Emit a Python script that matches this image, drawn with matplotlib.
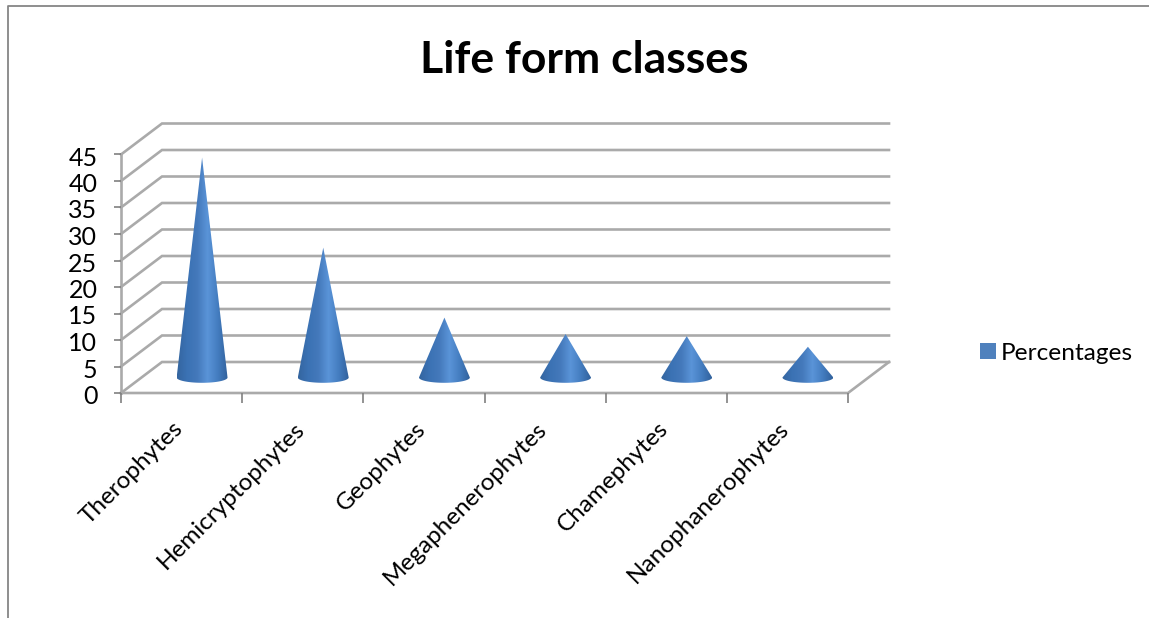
import numpy as np
import matplotlib
matplotlib.use("Agg")
import matplotlib.pyplot as plt
from matplotlib.lines import Line2D
from matplotlib.patches import Patch, Polygon
from matplotlib.colors import LinearSegmentedColormap
from matplotlib.transforms import ScaledTranslation

categories = ["Therophytes", "Hemicryptophytes", "Geophytes",
              "Megaphenerophytes", "Chamephytes", "Nanophanerophytes"]
percentages = [41.5, 24.5, 11.3, 8.2, 7.8, 5.8]
series_name = "Percentages"
title = "Life form classes"
y_ticks = list(range(0, 50, 5))

W, H = 1149, 618
FONT = ["Lato", "DejaVu Sans"]
plt.rcParams["font.family"] = FONT
GRID = "#aaaaaa"
TICK = "#808080"

fig = plt.figure(figsize=(W / 100, H / 100), dpi=100, facecolor="white")
ax = fig.add_axes([121 / W, 1 - 393 / H, 727 / W, 238.5 / H])
ax.set_xlim(0, 6)
ax.set_ylim(0, 45)
ax.patch.set_alpha(0)
for s in ax.spines.values():
    s.set_visible(False)

DX = 41 / (727 / 6)          # depth of the 3-D box, in category units
DY = 31 / (238.5 / 45)       # depth of the 3-D box, in value units
LW = 1.9

for v in y_ticks:
    ax.plot([0, DX, 6 + DX], [v, v + DY, v + DY], color=GRID, lw=LW,
            clip_on=False, zorder=1, solid_joinstyle="miter")
ax.plot([0, 6, 6 + DX], [0, 0, DY], color=GRID, lw=LW, clip_on=False, zorder=1)
ax.plot([0, 0], [0, 45], color=GRID, lw=LW, clip_on=False, zorder=1)

cmap = LinearSegmentedColormap.from_list(
    "cone", ["#34659f", "#3b72b4", "#4479bb", "#5a94d8", "#447dc0", "#31619c"])
grad = np.linspace(0, 1, 256)[None, :]
half_w = 0.21
e_h = 1.0
base_y = DY * 0.5
t = np.linspace(0, np.pi, 40)
for i, v in enumerate(percentages):
    cx = i + 0.5 + DX * 0.5
    xs = np.r_[cx, cx + half_w * np.cos(t)]
    ys = np.r_[base_y + v, base_y - e_h * np.sin(t)]
    im = ax.imshow(grad, cmap=cmap, aspect="auto", zorder=3, clip_on=True,
                   extent=[cx - half_w, cx + half_w, base_y - e_h, base_y + v],
                   interpolation="bilinear")
    poly = Polygon(np.c_[xs, ys], closed=True, transform=ax.transData,
                   facecolor="none", edgecolor="none")
    ax.add_patch(poly)
    im.set_clip_path(poly)
ax.set_xlim(0, 6)
ax.set_ylim(0, 45)

ax.set_yticks(y_ticks)
ax.set_yticklabels([str(v) for v in y_ticks])
ax.set_xticks(range(7))
ax.set_xticklabels([])
ax.set_xticks(np.arange(6) + 0.5, minor=True)
ax.set_xticklabels(categories, minor=True, rotation=45, ha="right", va="top",
                   rotation_mode="anchor", fontsize=17.5, color="black",
                   fontfamily=FONT)
ax.tick_params(axis="x", which="major", length=7, width=1.2, color=TICK)
ax.tick_params(axis="x", which="minor", length=0, pad=18)
ax.tick_params(axis="y", which="major", length=5, width=1.2, color=TICK,
               labelsize=18, pad=12, labelcolor="black")
shift = ScaledTranslation(-6.5 / 72, 0, fig.dpi_scale_trans)
for lab in ax.get_xticklabels(minor=True):
    lab.set_transform(lab.get_transform() + shift)
down = ScaledTranslation(0, -1.5 / 100, fig.dpi_scale_trans)
for lab in ax.get_yticklabels():
    lab.set_transform(lab.get_transform() + down)

fig.text(584 / W, 1 - 60 / H, title, ha="center", va="center",
         fontsize=32, fontweight="bold", color="black")

handle = Patch(facecolor="#4f81bd", edgecolor="none")
fig.legend([handle], [series_name], loc="center left",
           bbox_to_anchor=(975.5 / W, 1 - 353 / H), frameon=False, fontsize=17.6,
           handlelength=0.62, handleheight=0.62, handletextpad=0.22,
           borderpad=0.2, borderaxespad=0)

fig.add_artist(Line2D([8 / W, 8 / W, 1], [0, 1 - 5.5 / H, 1 - 5.5 / H],
                      transform=fig.transFigure, color="#868686", lw=1.3))

fig.savefig("out.png", dpi=100)
